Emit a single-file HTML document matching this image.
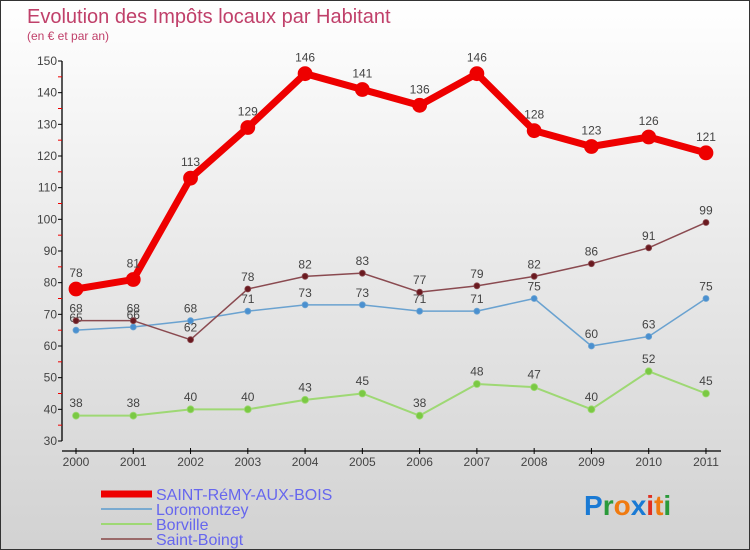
<!DOCTYPE html>
<html><head><meta charset="utf-8"><style>
body{margin:0}
#wrap{width:750px;height:550px;position:relative;overflow:hidden;box-sizing:border-box;border:1px solid #333;background:linear-gradient(#ffffff 0%,#ececec 40%,#d2d2d2 100%);font-family:"Liberation Sans",sans-serif}
svg text{font-family:"Liberation Sans",sans-serif}
</style></head><body>
<div id="wrap">
<svg id="chart" width="750" height="550">
<text x="26" y="22" font-size="20" fill="#c0406a">Evolution des Impôts locaux par Habitant</text>
<text x="26" y="39" font-size="12" fill="#c0406a">(en € et par an)</text>
<g id="axes"></g>
<g id="series"></g>
<g id="legend"></g>
<text x="583" y="514" font-size="28" font-weight="bold"><tspan fill="#1a7ad4">P</tspan><tspan fill="#2a9a3a">r</tspan><tspan fill="#f07a10">o</tspan><tspan fill="#1a7ad4">x</tspan><tspan fill="#e03020">i</tspan><tspan fill="#f07a10">t</tspan><tspan fill="#2a9a3a">i</tspan></text>
</svg>
</div>
<script>
const years=["2000","2001","2002","2003","2004","2005","2006","2007","2008","2009","2010","2011"];
const yTicks=[30,40,50,60,70,80,90,100,110,120,130,140,150];
const saintRemy=[78,81,113,129,146,141,136,146,128,123,126,121];
const loromontzey=[65,66,68,71,73,73,71,71,75,60,63,75];
const borville=[38,38,40,40,43,45,38,48,47,40,52,45];
const saintBoingt=[68,68,62,78,82,83,77,79,82,86,91,99];
const NS="http://www.w3.org/2000/svg";
function X(i){return 75+i*57.27;}
function Y(v){return 440-(v-30)*3.1667;}
function mk(tag,attrs,parent){const e=document.createElementNS(NS,tag);for(const k in attrs)e.setAttribute(k,attrs[k]);parent.appendChild(e);return e;}
const axes=document.getElementById('axes');
let e=mk('line',{x1:61,y1:Y(150),x2:61,y2:Y(30),stroke:'#000','stroke-width':1.3},axes);


yTicks.forEach(v=>{
  mk('line',{x1:57,y1:Y(v),x2:61,y2:Y(v),stroke:'#000'},axes);
  if(v<150) mk('line',{x1:57,y1:Y(v+5),x2:61,y2:Y(v+5),stroke:'#e00'},axes);
  const t=mk('text',{x:56,y:Y(v)+4,'text-anchor':'end','font-size':12,fill:'#444'},axes);
  t.textContent=v;
  
  
});
e=mk('line',{x1:61,y1:450,x2:720,y2:450,stroke:'#000','stroke-width':1.3},axes);


years.forEach((y,i)=>{
  mk('line',{x1:X(i),y1:447,x2:X(i),y2:453,stroke:'#000'},axes);
  const t=mk('text',{x:X(i),y:465,'text-anchor':'middle','font-size':12,fill:'#444'},axes);
  t.textContent=y;
  
  
});
const ser=document.getElementById('series');
function draw(vals,color,dot,w,r,name,labels){
  const g=mk('g',{},ser);
  
  
  mk('polyline',{points:vals.map((v,i)=>X(i)+','+Y(v)).join(' '),fill:'none',stroke:color,'stroke-width':w,'stroke-linejoin':'round'},g);
  vals.forEach((v,i)=>{
    const c=mk('circle',{cx:X(i),cy:Y(v),r:r,fill:dot,stroke:color,'stroke-width':0.8},g);
    
    
    if(labels){const t=mk('text',{x:X(i),y:Y(v)-r-5,'text-anchor':'middle','font-size':12,fill:'#444'},g);t.textContent=v;
    
    }
  });
}
draw(borville,'#9ed874','#7ac943',2,3.5,'series-borville',true);
draw(loromontzey,'#6aa2d0','#4a90d0',1.5,3,'series-loromontzey',true);
draw(saintBoingt,'#8a4a50','#6a1a20',1.5,3,'series-saint-boingt',true);
draw(saintRemy,'#ee0000','#ee0000',7,7,'series-saint-remy',true);
const leg=document.getElementById('legend');
const items=[["SAINT-RéMY-AUX-BOIS","#ee0000",7],["Loromontzey","#7aaad0",2],["Borville","#9ed874",2],["Saint-Boingt","#9a6a6a",2]];
items.forEach((it,k)=>{
  const y=493+k*15;
  const g=mk('g',{},leg);
  
  
  mk('line',{x1:100,y1:y,x2:151,y2:y,stroke:it[1],'stroke-width':it[2]},g);
  const t=mk('text',{x:155,y:y+6,'font-size':16,fill:'#6666ee'},g);t.textContent=it[0];
});
</script>
</body></html>
